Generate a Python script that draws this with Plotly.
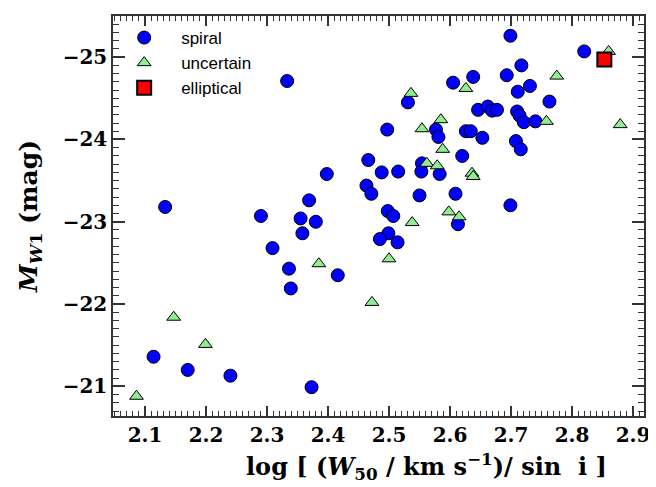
import plotly.graph_objects as go

# spiral galaxies: log(W50/sin i) and absolute W1 magnitude
spiral_x = [2.699, 2.820, 2.717, 2.693, 2.638, 2.605, 2.731, 2.711, 2.531, 2.763,
            2.646, 2.662, 2.669, 2.677, 2.710, 2.714, 2.721, 2.740, 2.497, 2.577,
            2.581, 2.626, 2.634, 2.653, 2.708, 2.716, 2.620, 2.554, 2.466, 2.488,
            2.515, 2.553, 2.583, 2.398, 2.463, 2.471, 2.609, 2.550, 2.369, 2.699,
            2.133, 2.498, 2.290, 2.507, 2.355, 2.380, 2.613, 2.358, 2.499, 2.485,
            2.514, 2.309, 2.336, 2.416, 2.339, 2.333, 2.114, 2.170, 2.240, 2.373]
spiral_y = [-25.26, -25.07, -24.90, -24.78, -24.76, -24.69, -24.65, -24.58, -24.45, -24.46,
            -24.36, -24.40, -24.35, -24.36, -24.34, -24.29, -24.21, -24.22, -24.12, -24.12,
            -24.03, -24.10, -24.10, -24.02, -23.98, -23.88, -23.80, -23.71, -23.75, -23.60,
            -23.61, -23.61, -23.58, -23.58, -23.44, -23.34, -23.34, -23.32, -23.26, -23.20,
            -23.18, -23.13, -23.07, -23.07, -23.04, -23.00, -22.97, -22.86, -22.86, -22.79,
            -22.75, -22.68, -22.43, -22.35, -22.19, -24.71, -21.36, -21.20, -21.13, -20.99]

uncertain_x = [2.860, 2.775, 2.626, 2.536, 2.758, 2.879, 2.554, 2.585, 2.588, 2.562,
               2.579, 2.636, 2.638, 2.538, 2.598, 2.615, 2.500, 2.385, 2.472, 2.147,
               2.199, 2.086]
uncertain_y = [-25.07, -24.77, -24.62, -24.56, -24.22, -24.18, -24.13, -24.24, -23.88, -23.71,
               -23.68, -23.59, -23.55, -22.99, -23.12, -23.06, -22.55, -22.49, -22.02, -21.84,
               -21.51, -20.88]

elliptical_x = [2.853]
elliptical_y = [-24.97]

x_ticks = [2.1, 2.2, 2.3, 2.4, 2.5, 2.6, 2.7, 2.8, 2.9]
y_ticks = [-25, -24, -23, -22, -21]

fig = go.Figure()

fig.add_trace(go.Scatter(
    x=spiral_x, y=spiral_y, mode="markers", name="spiral",
    marker=dict(symbol="circle", size=13, color="#0000ff",
                line=dict(color="black", width=1))
))
fig.add_trace(go.Scatter(
    x=uncertain_x, y=uncertain_y, mode="markers", name="uncertain",
    marker=dict(symbol="triangle-up", size=12, color="#90ee90",
                line=dict(color="black", width=1))
))
fig.add_trace(go.Scatter(
    x=elliptical_x, y=elliptical_y, mode="markers", name="elliptical",
    marker=dict(symbol="square", size=14, color="#ff0000",
                line=dict(color="black", width=2))
))

tick_font = dict(family="DejaVu Serif", size=20, color="black", weight="bold")
axis_common = dict(
    showline=True, mirror="allticks", linecolor="#333333", linewidth=1.5,
    ticks="inside", tickcolor="#333333", tickwidth=1.5,
    showgrid=False, zeroline=False, tickfont=tick_font,
)

fig.update_xaxes(
    range=[2.0475, 2.918], tickvals=x_ticks, ticklen=10,
    minor=dict(ticks="inside", dtick=0.01, tick0=2.0, ticklen=5,
               tickcolor="#333333", tickwidth=1, showgrid=False),
    **axis_common
)
fig.update_yaxes(
    range=[-20.64, -25.5], tickvals=y_ticks, ticklen=12,
    minor=dict(ticks="inside", dtick=0.1, tick0=-26, ticklen=6,
               tickcolor="#333333", tickwidth=1, showgrid=False),
    title=dict(text="<b><i>M</i><sub><i>W</i>1</sub> (mag)</b>",
               font=dict(family="DejaVu Serif", size=25, color="black"), standoff=18),
    **axis_common
)

# x label sits right of the axes centre in the reference, so place it by hand
fig.add_annotation(
    text="<b>log [ (<i>W</i><sub>50</sub> / km s<sup>−1</sup>)/ sin  i ]</b>",
    xref="paper", yref="paper", x=0.59, y=-0.127,
    xanchor="center", yanchor="middle", showarrow=False,
    font=dict(family="DejaVu Serif", size=24, color="black"),
)

# the page body adds an 8px margin, so the figure is 8px smaller than the window
fig.update_layout(
    width=648, height=479,
    margin=dict(l=105, r=9, t=6, b=71),
    plot_bgcolor="white", paper_bgcolor="white",
    legend=dict(x=-0.011, y=0.99, xanchor="left", yanchor="top",
                font=dict(family="Liberation Sans", size=17, color="black"),
                bgcolor="rgba(0,0,0,0)", itemwidth=64, tracegroupgap=2),
    showlegend=True,
)

fig.write_html("out.html")
